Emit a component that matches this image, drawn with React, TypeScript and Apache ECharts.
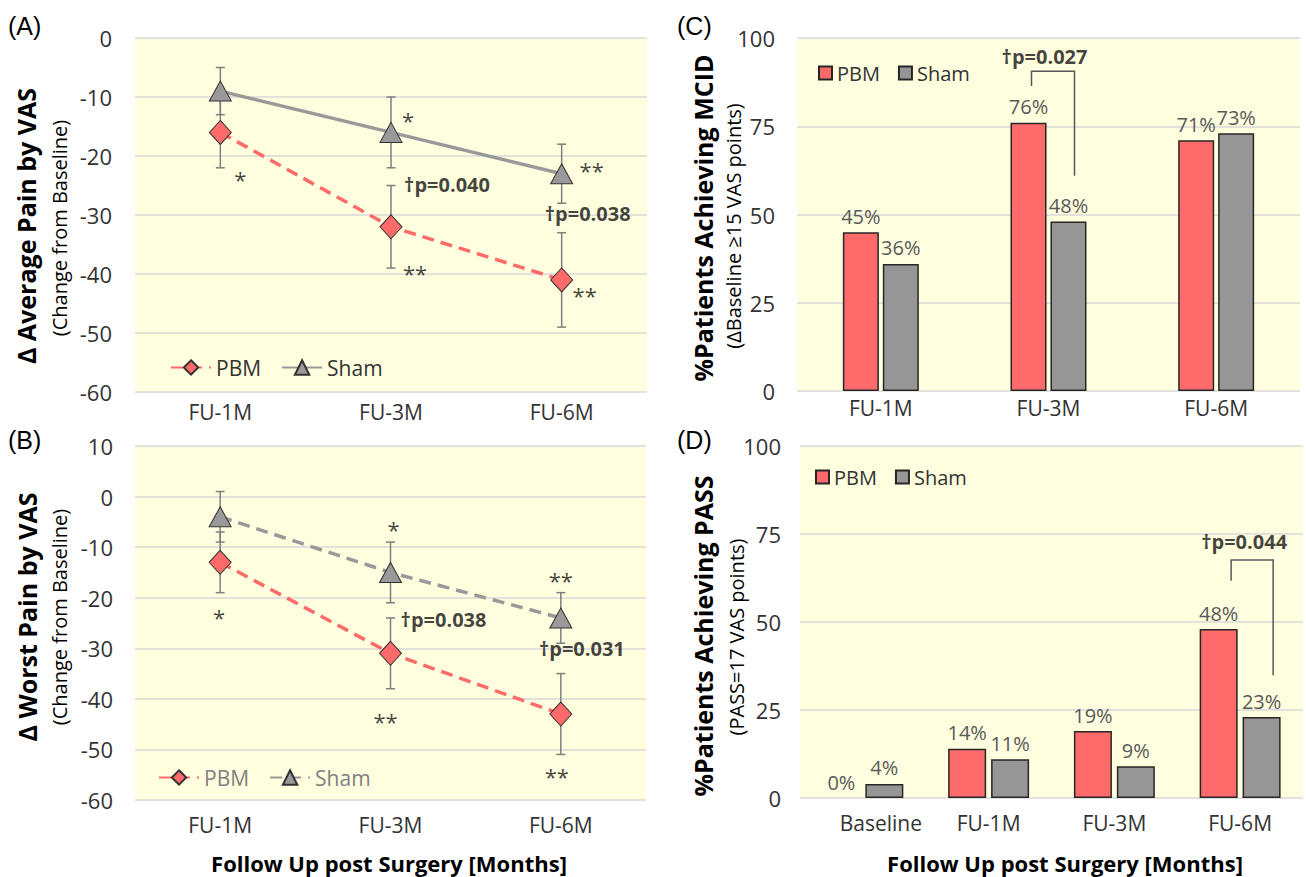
import React, { useEffect, useRef } from 'react';
import * as echarts from 'echarts';

// ---------- DATA ----------
const followUps = ['FU-1M', 'FU-3M', 'FU-6M'];
const avgPbm = [-16, -32, -41];
const avgPbmErr = [6, 7, 8];
const avgSham = [-9, -16, -23];
const avgShamErr = [4, 6, 5];

const worstPbm = [-13, -31, -43];
const worstPbmErr = [6, 7, 8];
const worstSham = [-4, -15, -24];
const worstShamErr = [5, 6, 5];

const mcidCats = ['FU-1M', 'FU-3M', 'FU-6M'];
const mcidPbm = [45, 76, 71];
const mcidSham = [36, 48, 73];

const passCats = ['Baseline', 'FU-1M', 'FU-3M', 'FU-6M'];
const passPbm = [0, 14, 19, 48];
const passSham = [4, 11, 9, 23];

// annotations: [categoryIndex, value, text, dx]
const avgNotes: [number, number, string, number][] = [
  [0, -22.7, '*', 20],
  [1, -12.7, '*', 17],
  [1, -24.9, '†p=0.040', 56],
  [1, -38.6, '**', 24],
  [2, -21.2, '**', 30],
  [2, -29.7, '†p=0.038', 26],
  [2, -42.4, '**', 23],
];
const worstNotes: [number, number, string, number][] = [
  [0, -22.4, '*', -1],
  [1, -5.0, '*', 3],
  [1, -24.4, '†p=0.038', 53],
  [1, -43, '**', -5],
  [2, -15.1, '**', 0],
  [2, -30, '†p=0.031', 21],
  [2, -53.9, '**', -4],
];
const mcidNotes: [number, number, string, number][] = [[1, 94.9, '†p=0.027', -4]];
const passNotes: [number, number, string, number][] = [[3, 72.8, '†p=0.044', 4]];

// brackets: [categoryIndex, leftBottom, top, rightBottom]
const mcidBracket = [[1, 86.4, 90.6, 61]];
const mcidBracketDx = [[-17, 26]];
const passBracket = [[3, 61.7, 67.6, 34.9]];
const passBracketDx = [[-9, 33]];

// ---------- STYLE ----------
const FONT = "'Open Sans', sans-serif";
const RED = '#FF6B6B';
const GRAY = '#999999';
const BAR_GRAY = '#969696';
const YELLOW = '#FFFFE0';
const DASH = [12, 7];

function errorRenderer(params: any, api: any) {
  const x = api.value(0);
  const lo = api.coord([x, api.value(1)]);
  const hi = api.coord([x, api.value(2)]);
  const cw = 4.5;
  const st = { stroke: '#7F7F7F', lineWidth: 1.5 };
  return {
    type: 'group',
    children: [
      { type: 'line', shape: { x1: hi[0], y1: hi[1], x2: lo[0], y2: lo[1] }, style: st },
      { type: 'line', shape: { x1: hi[0] - cw, y1: hi[1], x2: hi[0] + cw, y2: hi[1] }, style: st },
      { type: 'line', shape: { x1: lo[0] - cw, y1: lo[1], x2: lo[0] + cw, y2: lo[1] }, style: st },
    ],
  };
}

function notesSeries(notes: [number, number, string, number][]) {
  return {
    type: 'scatter',
    name: 'notes',
    silent: true,
    symbolSize: 1,
    itemStyle: { color: 'rgba(0,0,0,0)' },
    z: 6,
    data: notes.map(([c, v, t, dx]) => {
      const bold = t.indexOf('p=') >= 0;
      return {
        value: [c, v],
        label: {
          show: true,
          position: 'inside',
          formatter: t,
          offset: [dx, bold ? 0 : 7],
          fontFamily: FONT,
          fontSize: bold ? 20 : 22,
          fontWeight: bold ? 'bold' : 'normal',
          color: '#111',
        },
      };
    }),
  };
}

function bracketSeries(data: number[][], dxs: number[][]) {
  return {
    type: 'custom',
    name: 'bracket',
    silent: true,
    z: 5,
    data,
    renderItem: (params: any, api: any) => {
      const c = api.value(0);
      const pL = api.coord([c, api.value(1)]);
      const pT = api.coord([c, api.value(2)]);
      const pR = api.coord([c, api.value(3)]);
      const [dl, dr] = dxs[params.dataIndex];
      return {
        type: 'polyline',
        shape: {
          points: [
            [pL[0] + dl, pL[1]],
            [pT[0] + dl, pT[1]],
            [pT[0] + dr, pT[1]],
            [pR[0] + dr, pR[1]],
          ],
        },
        style: { stroke: '#595959', lineWidth: 1.5, fill: null },
      };
    },
  };
}

function vText(x: number, y: number, text: string, size: number, bold: boolean) {
  return {
    type: 'text',
    x,
    y,
    rotation: Math.PI / 2,
    style: {
      text,
      fontFamily: FONT,
      fontSize: size,
      fontWeight: bold ? 'bold' : 'normal',
      fill: '#000',
      align: 'center',
      verticalAlign: 'middle',
    },
  };
}

function hText(x: number, y: number, text: string, size: number, bold: boolean, align = 'left', family = FONT) {
  return {
    type: 'text',
    x,
    y,
    style: {
      text,
      fontFamily: family,
      fontSize: size,
      fontWeight: bold ? 'bold' : 'normal',
      fill: '#000',
      align,
      verticalAlign: 'middle',
    },
  };
}

function linePanel(cfg: any) {
  return {
    animation: false,
    textStyle: { fontFamily: FONT },
    grid: { ...cfg.grid, show: true, backgroundColor: YELLOW, borderWidth: 0, containLabel: false },
    xAxis: {
      type: 'category',
      data: followUps,
      axisLine: { show: false },
      axisTick: { show: false },
      axisLabel: { interval: 0, fontSize: 21, color: '#333', margin: cfg.xMargin, fontFamily: FONT },
    },
    yAxis: {
      type: 'value',
      min: cfg.min,
      max: cfg.max,
      interval: 10,
      axisLine: { show: false },
      axisTick: { show: false },
      splitLine: { lineStyle: { color: '#D9D9D9', width: 1.5 } },
      axisLabel: { fontSize: 22, color: '#333', margin: cfg.yMargin, fontFamily: FONT },
    },
    legend: {
      data: ['PBM', 'Sham'],
      left: cfg.legend.left,
      top: cfg.legend.top,
      itemWidth: 40,
      itemHeight: 18,
      itemGap: 20,
      textStyle: { fontSize: 21, color: cfg.legendColor, fontFamily: FONT },
    },
    series: [
      {
        type: 'custom',
        name: 'errSham',
        silent: true,
        z: 1,
        renderItem: errorRenderer,
        data: cfg.sham.map((v: number, i: number) => [i, v - cfg.shamErr[i], v + cfg.shamErr[i]]),
      },
      {
        type: 'custom',
        name: 'errPbm',
        silent: true,
        z: 1,
        renderItem: errorRenderer,
        data: cfg.pbm.map((v: number, i: number) => [i, v - cfg.pbmErr[i], v + cfg.pbmErr[i]]),
      },
      {
        type: 'line',
        name: 'Sham',
        data: cfg.sham,
        z: 3,
        symbol: 'triangle',
        symbolSize: [22, 20],
        lineStyle: { color: GRAY, width: 3.5, type: cfg.shamDashed ? DASH : 'solid' },
        itemStyle: { color: GRAY, borderColor: '#333', borderWidth: 1 },
      },
      {
        type: 'line',
        name: 'PBM',
        data: cfg.pbm,
        z: 4,
        symbol: 'diamond',
        symbolSize: [22, 24],
        lineStyle: { color: RED, width: 3.5, type: DASH },
        itemStyle: { color: RED, borderColor: '#333', borderWidth: 1 },
      },
      notesSeries(cfg.notes),
    ],
    graphic: cfg.graphic,
  };
}

function barPanel(cfg: any) {
  const lbl = {
    show: true,
    position: 'top',
    distance: 6,
    formatter: '{c}%',
    color: '#595959',
    fontSize: 20,
    fontFamily: FONT,
  };
  return {
    animation: false,
    textStyle: { fontFamily: FONT },
    grid: { ...cfg.grid, show: true, backgroundColor: YELLOW, borderWidth: 0 },
    xAxis: {
      type: 'category',
      data: cfg.cats,
      axisLine: { show: false },
      axisTick: { show: false },
      axisLabel: {
        interval: 0,
        hideOverlap: false,
        fontSize: 21,
        color: '#333',
        margin: cfg.xMargin,
        fontFamily: FONT,
        formatter: (v: string) => (v === 'Baseline' ? '{b|' + v + '}' : v),
        rich: { b: { fontSize: 21, color: '#333', fontFamily: FONT, padding: [0, 0, 0, 36] } },
      },
    },
    yAxis: {
      type: 'value',
      min: 0,
      max: 100,
      interval: 25,
      axisLine: { show: false },
      axisTick: { show: false },
      splitLine: { lineStyle: { color: '#D9D9D9', width: 1.5 } },
      axisLabel: { fontSize: 22, color: '#333', margin: cfg.yMargin, fontFamily: FONT },
    },
    legend: {
      data: ['PBM', 'Sham'],
      left: cfg.legend.left,
      top: cfg.legend.top,
      icon: 'rect',
      itemWidth: 13,
      itemHeight: 13,
      itemGap: 18,
      textStyle: { fontSize: 20, color: '#333', fontFamily: FONT },
    },
    series: [
      {
        type: 'bar',
        name: 'PBM',
        data: cfg.pbm.map((v: number) => (v === 0 ? { value: v, itemStyle: { borderWidth: 0 } } : v)),
        barWidth: cfg.barWidth,
        barGap: cfg.barGap,
        itemStyle: { color: RED, borderColor: '#262626', borderWidth: 1.5 },
        label: lbl,
      },
      {
        type: 'bar',
        name: 'Sham',
        data: cfg.sham,
        barWidth: cfg.barWidth,
        barGap: cfg.barGap,
        itemStyle: { color: BAR_GRAY, borderColor: '#262626', borderWidth: 1.5 },
        label: lbl,
      },
      bracketSeries(cfg.bracket, cfg.bracketDx),
      notesSeries(cfg.notes),
    ],
    graphic: cfg.graphic,
  };
}

const optA = linePanel({
  grid: { left: 135, top: 38, width: 512, height: 354 },
  min: -60,
  max: 0,
  xMargin: 9,
  yMargin: 23,
  pbm: avgPbm,
  pbmErr: avgPbmErr,
  sham: avgSham,
  shamErr: avgShamErr,
  shamDashed: false,
  notes: avgNotes,
  legend: { left: 165, top: 352 },
  legendColor: '#333',
  graphic: [
    hText(8, 26, '(A)', 25, false, 'left', "'Liberation Sans', Arial, sans-serif"),
    vText(26, 226, 'Δ Average Pain by VAS', 25, true),
    vText(59, 228, '(Change from Baseline)', 20, false),
  ],
});

const optB = linePanel({
  grid: { left: 135, top: 36, width: 511, height: 354 },
  min: -60,
  max: 10,
  xMargin: 14,
  yMargin: 22,
  pbm: worstPbm,
  pbmErr: worstPbmErr,
  sham: worstSham,
  shamErr: worstShamErr,
  shamDashed: true,
  notes: worstNotes,
  legend: { left: 153, top: 352 },
  legendColor: '#808080',
  graphic: [
    hText(8, 30, '(B)', 25, false, 'left', "'Liberation Sans', Arial, sans-serif"),
    vText(27, 207, 'Δ Worst Pain by VAS', 25, true),
    vText(59, 207, '(Change from Baseline)', 20, false),
    hText(389, 453, 'Follow Up post Surgery [Months]', 22, true, 'center'),
  ],
});

const optC = barPanel({
  grid: { left: 144, top: 38, width: 503, height: 353 },
  cats: mcidCats,
  pbm: mcidPbm,
  sham: mcidSham,
  barWidth: 36,
  barGap: '11%',
  xMargin: 6,
  yMargin: 22,
  legend: { left: 160, top: 58 },
  bracket: mcidBracket,
  bracketDx: mcidBracketDx,
  notes: mcidNotes,
  graphic: [
    hText(24, 26, '(C)', 25, false, 'left', "'Liberation Sans', Arial, sans-serif"),
    vText(50, 218, '%Patients Achieving MCID', 25, true),
    vText(80, 226, '(ΔBaseline ≥15 VAS points)', 20, false),
  ],
});

const optD = barPanel({
  grid: { left: 147, top: 36, width: 503, height: 352 },
  cats: passCats,
  pbm: passPbm,
  sham: passSham,
  barWidth: 38,
  barGap: '13%',
  xMargin: 14,
  yMargin: 19,
  legend: { left: 157, top: 52 },
  bracket: passBracket,
  bracketDx: passBracketDx,
  notes: passNotes,
  graphic: [
    hText(24, 30, '(D)', 25, false, 'left', "'Liberation Sans', Arial, sans-serif"),
    vText(50, 226, '%Patients Achieving PASS', 25, true),
    vText(83, 227, '(PASS=17 VAS points)', 20, false),
    hText(412, 453, 'Follow Up post Surgery [Months]', 22, true, 'center'),
  ],
});

const panels = [
  { opt: optA, left: 0, top: 0, width: 653, height: 430 },
  { opt: optB, left: 0, top: 410, width: 653, height: 467 },
  { opt: optC, left: 653, top: 0, width: 653, height: 430 },
  { opt: optD, left: 653, top: 410, width: 653, height: 467 },
];

export default function App() {
  const r0 = useRef<HTMLDivElement>(null);
  const r1 = useRef<HTMLDivElement>(null);
  const r2 = useRef<HTMLDivElement>(null);
  const r3 = useRef<HTMLDivElement>(null);
  const refs = [r0, r1, r2, r3];

  useEffect(() => {
    const charts = panels.map((p, i) => {
      const c = echarts.init(refs[i].current as HTMLDivElement, null, { renderer: 'svg' });
      c.setOption(p.opt as any);
      return c;
    });
    return () => charts.forEach((c) => c.dispose());
  }, []);

  return (
    <div style={{ position: 'fixed', left: 0, top: 0, width: 1306, height: 877, background: '#fff' }}>
      {panels.map((p, i) => (
        <div
          key={i}
          ref={refs[i]}
          style={{ position: 'absolute', left: p.left, top: p.top, width: p.width, height: p.height }}
        />
      ))}
    </div>
  );
}
